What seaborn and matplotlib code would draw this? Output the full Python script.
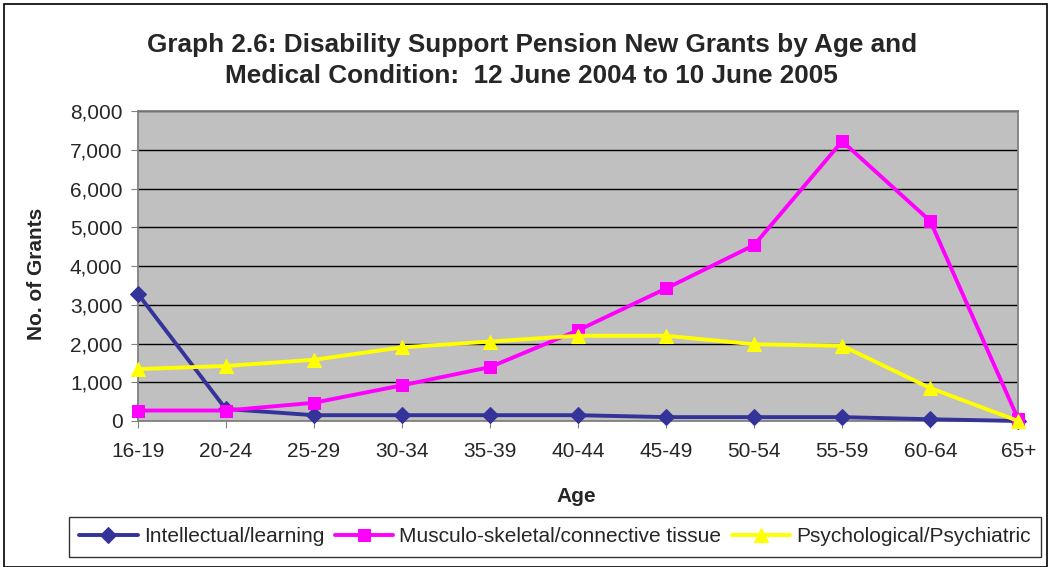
import matplotlib
matplotlib.use("Agg")
import pandas as pd
import seaborn as sns
import matplotlib.pyplot as plt
from matplotlib.ticker import FuncFormatter
from matplotlib.patches import Rectangle

ages = ["16-19", "20-24", "25-29", "30-34", "35-39", "40-44",
        "45-49", "50-54", "55-59", "60-64", "65+"]
intellectual = [3290, 310, 150, 150, 150, 150, 100, 100, 100, 45, 0]
musculo = [270, 270, 470, 920, 1390, 2340, 3420, 4540, 7220, 5160, 40]
psych = [1340, 1420, 1580, 1900, 2050, 2200, 2200, 1980, 1940, 850, 0]

series = {
    "Intellectual/learning": (intellectual, "#333399", "D", 8),
    "Musculo-skeletal/connective tissue": (musculo, "#FF00FF", "s", 9),
    "Psychological/Psychiatric": (psych, "#FFFF00", "^", 10),
}

sns.set_style("white")
plt.rcParams["font.family"] = ["Liberation Sans", "DejaVu Sans"]

fig = plt.figure(figsize=(10.51, 5.67), dpi=100)
ax = fig.add_axes([0.131, 0.2575, 0.8379, 0.5467])
ax.set_facecolor("#C0C0C0")

for name, (vals, col, mk, ms) in series.items():
    df = pd.DataFrame({"Age": ages, "Grants": vals})
    sns.lineplot(data=df, x="Age", y="Grants", ax=ax, color=col, marker=mk,
                 markersize=ms, markeredgecolor=col, linewidth=2.8, label=name,
                 sort=False, clip_on=False, zorder=3)

ax.set_xlim(0, len(ages) - 1)
ax.set_ylim(0, 8000)
ax.set_yticks(range(0, 8001, 1000))
ax.yaxis.set_major_formatter(FuncFormatter(lambda v, p: f"{int(v):,}"))
ax.grid(axis="y", color="black", linewidth=1)
ax.set_axisbelow(True)
for s in ax.spines.values():
    s.set_color("#808080")
    s.set_linewidth(1.3)
ax.tick_params(axis="both", direction="out", length=5, color="#808080",
               labelsize=15, left=True, bottom=True)
ax.tick_params(axis="y", pad=6)
ax.tick_params(axis="x", pad=10)

ax.set_xlabel("Age", fontsize=15, fontweight="bold")
ax.set_ylabel("No. of Grants", fontsize=15, fontweight="bold")
ax.xaxis.set_label_coords(0.498, -0.212)
ax.yaxis.set_label_coords(-0.104, 0.474)

fig.text(0.506, 0.893, "Graph 2.6: Disability Support Pension New Grants by Age and\n"
         "Medical Condition:  12 June 2004 to 10 June 2005",
         ha="center", va="center", fontsize=18.8, fontweight="bold", linespacing=1.4)

handles, labels = ax.get_legend_handles_labels()
ax.get_legend().remove()
leg = fig.legend(handles, labels, loc="center", bbox_to_anchor=(555 / 1051, 1 - 537 / 567),
                 ncol=3, frameon=True, fancybox=False, edgecolor="black",
                 fontsize=15, handlelength=2.8, columnspacing=0.5, handletextpad=0.3,
                 borderpad=0.5)
leg.get_frame().set_linewidth(1)

fig.patches.append(Rectangle((4 / 1051, 0.0), 1043 / 1051, 1 - 4 / 567,
                             transform=fig.transFigure, fill=False,
                             edgecolor="black", linewidth=1.2))

fig.savefig("out.png", dpi=100)
